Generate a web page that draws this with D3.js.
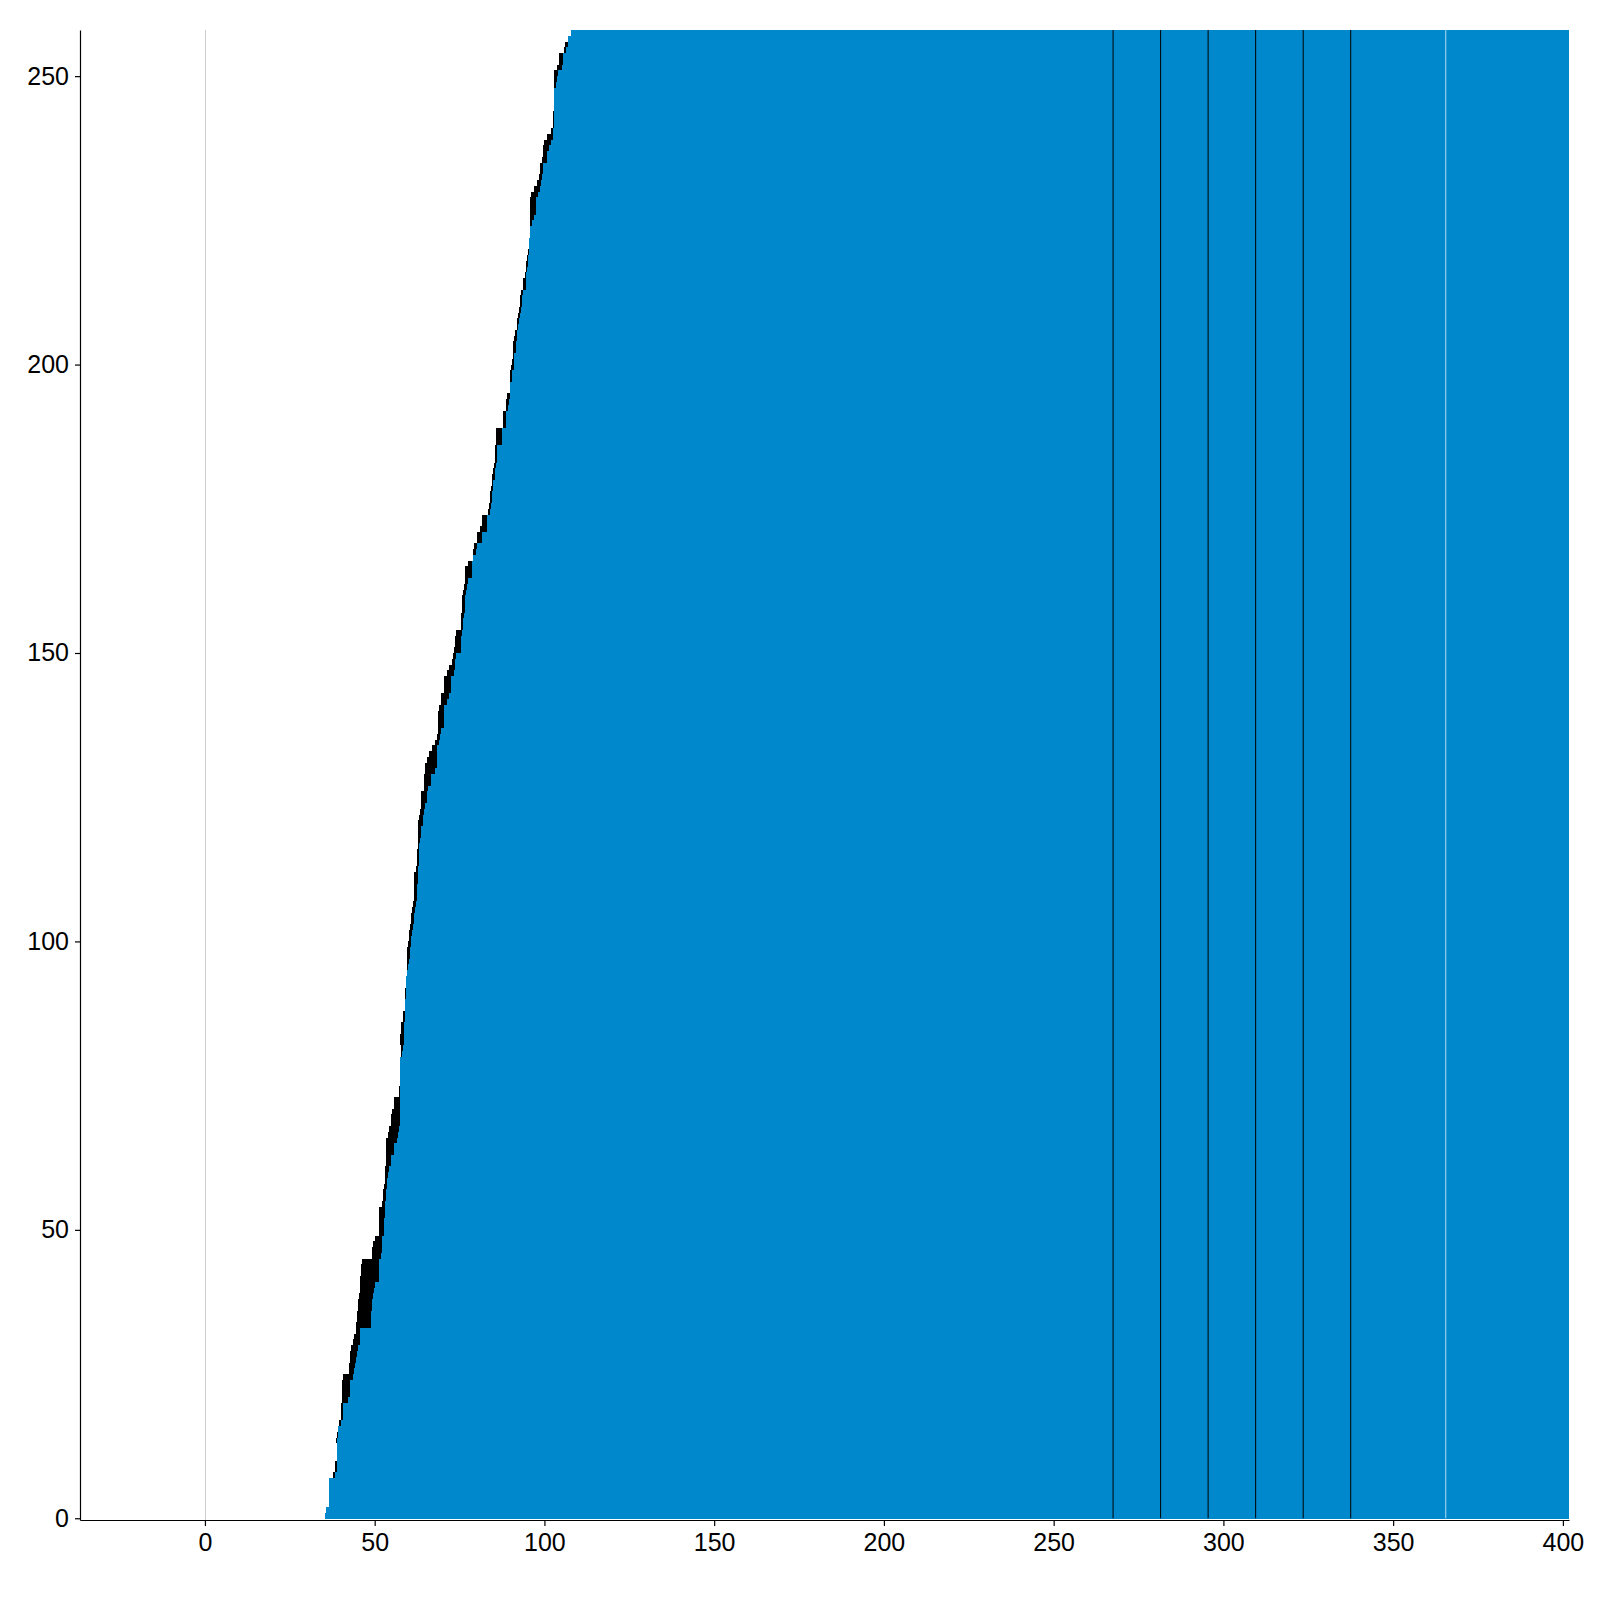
<!DOCTYPE html>
<html>
<head>
<meta charset="utf-8">
<script src="https://cdn.jsdelivr.net/npm/d3@7"></script>
<style>
  body { margin: 0; background: #fff; }
  svg { display: block; }
  .axis text { font-family: "Liberation Sans", Arial, sans-serif; font-size: 25px; fill: #000; }
</style>
</head>
<body>
<div id="chart"></div>
<script>
// one entry per row (row i spans y = i .. i+1)
const blackStart = [
  35.5, 35.8, 36.4, 36.4, 36.4, 36.4, 36.4, 37.7, 38.2, 38.3,
  38.8, 38.8, 38.8, 38.7, 39.0, 39.1, 39.4, 40.0, 40.1, 40.2,
  40.3, 40.4, 40.5, 40.5, 40.6, 42.4, 42.5, 42.7, 42.7, 42.9,
  43.7, 43.9, 44.4, 44.5, 44.7, 44.9, 45.0, 45.2, 45.4, 45.6,
  45.7, 45.8, 45.9, 46.1, 46.4, 49.3, 49.3, 49.6, 50.0, 51.2,
  51.2, 51.2, 51.2, 51.4, 52.3, 52.4, 52.5, 52.8, 52.9, 52.9,
  53.0, 53.3, 53.3, 53.3, 53.3, 53.4, 53.9, 54.2, 54.7, 54.7,
  55.0, 55.6, 55.6, 57.1, 57.2, 57.4, 57.4, 57.4, 57.5, 57.6,
  57.7, 57.8, 57.6, 57.6, 57.7, 57.8, 58.2, 58.4, 58.8, 58.8,
  58.8, 58.9, 59.2, 59.3, 59.4, 59.4, 59.5, 59.5, 59.5, 59.9,
  60.0, 60.1, 60.3, 60.6, 60.7, 60.9, 61.3, 61.5, 61.5, 61.6,
  61.7, 61.7, 62.1, 62.4, 62.4, 62.5, 62.7, 62.9, 62.9, 62.9,
  62.9, 63.2, 63.4, 63.6, 63.5, 63.6, 64.4, 64.4, 64.5, 64.8,
  64.8, 65.3, 65.9, 66.8, 67.7, 68.5, 68.6, 68.6, 68.6, 68.7,
  68.9, 69.4, 69.5, 70.4, 70.4, 70.5, 71.3, 71.8, 72.7, 73.2,
  73.3, 73.7, 73.7, 73.9, 75.3, 75.3, 75.5, 75.6, 75.6, 75.6,
  76.1, 76.4, 76.5, 76.7, 76.7, 77.4, 78.9, 79.1, 79.3, 80.1,
  80.1, 80.9, 81.5, 81.6, 83.4, 83.7, 83.9, 84.0, 84.4, 84.5,
  84.7, 84.8, 85.1, 85.4, 85.4, 85.5, 85.6, 85.7, 85.7, 87.7,
  87.7, 87.9, 88.6, 88.7, 88.9, 89.8, 89.8, 89.8, 89.9, 90.3,
  90.4, 90.7, 90.7, 90.7, 91.1, 91.3, 91.8, 91.9, 92.2, 92.5,
  92.7, 92.7, 93.2, 93.6, 93.6, 94.3, 94.6, 94.7, 95.0, 95.3,
  95.4, 95.6, 95.7, 95.7, 95.8, 95.8, 95.8, 95.8, 95.8, 96.0,
  96.9, 97.7, 98.3, 98.7, 98.8, 99.4, 99.6, 99.7, 99.8, 100.7,
  101.9, 102.5, 102.5, 102.6, 102.7, 102.7, 102.7, 102.7, 102.7, 102.8,
  102.8, 103.6, 104.2, 104.2, 105.8, 106.2, 107.0, 107.8
];
const blueStart = [
  35.5, 35.8, 36.4, 36.4, 36.4, 36.4, 36.4, 38.3, 38.8, 38.8,
  38.8, 38.8, 38.8, 39.0, 39.2, 39.3, 40.2, 40.7, 40.7, 40.7,
  42.2, 42.6, 42.6, 42.6, 43.7, 43.9, 44.1, 44.4, 44.9, 45.1,
  45.6, 45.6, 45.7, 49.0, 49.0, 49.0, 49.1, 49.3, 49.6, 49.9,
  50.0, 51.2, 51.2, 51.2, 51.2, 51.8, 52.2, 52.2, 52.2, 52.7,
  52.7, 52.7, 53.0, 53.0, 53.1, 53.2, 53.3, 53.6, 53.7, 53.8,
  54.1, 54.7, 54.7, 55.6, 55.6, 56.7, 56.9, 57.2, 57.4, 57.4,
  57.4, 57.4, 57.4, 57.4, 57.4, 57.4, 57.4, 57.4, 57.6, 57.6,
  58.1, 58.4, 58.6, 58.6, 58.6, 58.6, 58.8, 58.9, 58.9, 59.0,
  59.2, 59.2, 59.2, 59.3, 59.4, 59.9, 60.1, 60.4, 60.4, 60.6,
  60.8, 61.1, 61.4, 61.5, 61.6, 61.9, 62.1, 62.4, 62.4, 62.4,
  62.7, 62.7, 62.9, 63.1, 63.1, 63.1, 63.2, 63.4, 63.5, 63.6,
  64.3, 64.3, 64.4, 64.7, 65.5, 65.5, 65.8, 66.7, 66.7, 67.7,
  68.5, 68.5, 68.5, 68.5, 68.8, 69.1, 69.4, 70.3, 70.3, 70.3,
  70.4, 71.2, 71.9, 72.5, 72.5, 72.5, 73.4, 73.6, 73.7, 73.9,
  75.3, 75.5, 75.5, 75.8, 75.9, 76.0, 76.3, 76.5, 76.5, 76.6,
  76.9, 77.3, 77.6, 78.6, 78.8, 78.8, 79.1, 79.9, 80.0, 81.5,
  81.5, 83.2, 83.2, 83.2, 83.9, 84.2, 84.5, 84.7, 84.9, 85.0,
  85.3, 85.5, 85.7, 85.9, 85.9, 85.9, 87.6, 87.6, 87.6, 88.6,
  88.6, 88.6, 89.4, 89.5, 89.8, 89.8, 89.9, 90.5, 90.5, 90.9,
  90.9, 91.1, 91.6, 91.6, 91.9, 91.9, 92.3, 92.5, 92.8, 93.2,
  93.5, 93.5, 93.7, 94.5, 94.5, 94.7, 95.0, 95.2, 95.3, 95.5,
  95.6, 95.6, 95.7, 95.7, 96.3, 96.9, 97.4, 97.6, 97.6, 98.2,
  98.6, 99.0, 99.2, 99.5, 99.5, 100.7, 100.8, 101.3, 101.8, 102.4,
  102.5, 102.7, 102.7, 102.75, 102.75, 102.75, 102.75, 102.75, 103.3, 103.6,
  104.0, 105.3, 105.6, 105.6, 106.4, 106.8, 107.0, 107.8
];
const barEnd = 401.8;
const darkLines = [267.5, 281.5, 295.5, 309.5, 323.5, 337.5];
const lightLines = [365.5];
const zeroLine = [0];
const xTicks = [0, 50, 100, 150, 200, 250, 300, 350, 400];
const yTicks = [0, 50, 100, 150, 200, 250];

const fullwidth = 1600, fullheight = 1600;
const margin = { top: 30, right: 31, bottom: 80, left: 80 };
const blue = "#0088cc";

const rows = blackStart.map((b, i) => ({ row: i, black: b, blue: blueStart[i] }));

const x = d3.scaleLinear().domain([-36.8, barEnd]).range([margin.left, fullwidth - margin.right]);
const y = d3.scaleLinear().domain([-0.3, rows.length]).range([fullheight - margin.bottom, margin.top]);

const svg = d3.select("#chart").append("svg")
  .attr("width", fullwidth)
  .attr("height", fullheight);

// light line at x = 0
svg.selectAll(".zero")
  .data(zeroLine)
  .enter().append("line")
  .attr("x1", d => Math.round(x(d)) + 0.5).attr("x2", d => Math.round(x(d)) + 0.5)
  .attr("y1", y.range()[0]).attr("y2", y.range()[1])
  .attr("stroke", "#cccccc")
  .attr("stroke-width", 1);

const bars = svg.append("g").attr("shape-rendering", "crispEdges");

// black part of each row, then blue on top
bars.selectAll(".blk")
  .data(rows.filter(d => d.black < d.blue))
  .enter().append("rect")
  .attr("x", d => x(d.black))
  .attr("width", d => x(d.blue) - x(d.black))
  .attr("y", d => y(d.row + 1))
  .attr("height", d => y(d.row) - y(d.row + 1))
  .attr("fill", "#000");

bars.selectAll(".blu")
  .data(rows)
  .enter().append("rect")
  .attr("x", d => x(d.blue))
  .attr("width", d => x(barEnd) - x(d.blue))
  .attr("y", d => y(d.row + 1))
  .attr("height", d => y(d.row) - y(d.row + 1) + 0.5)
  .attr("fill", blue);

// vertical separators through the bars
svg.selectAll(".dark")
  .data(darkLines)
  .enter().append("line")
  .attr("x1", d => x(d)).attr("x2", d => x(d))
  .attr("y1", y(0)).attr("y2", y(rows.length))
  .attr("stroke", "#000")
  .attr("stroke-width", 1);

svg.selectAll(".light")
  .data(lightLines)
  .enter().append("line")
  .attr("x1", d => x(d)).attr("x2", d => x(d))
  .attr("y1", y(0)).attr("y2", y(rows.length))
  .attr("stroke", "#ffffff")
  .attr("stroke-opacity", 0.7)
  .attr("stroke-width", 1);

// axes
svg.append("g")
  .attr("class", "axis")
  .attr("transform", `translate(0,${fullheight - margin.bottom})`)
  .call(d3.axisBottom(x).tickValues(xTicks).tickSize(6).tickSizeOuter(0).tickPadding(7));

svg.append("g")
  .attr("class", "axis")
  .attr("transform", `translate(${margin.left},0)`)
  .call(d3.axisLeft(y).tickValues(yTicks).tickSize(5).tickSizeOuter(0).tickPadding(6));

svg.selectAll(".axis path, .axis line").attr("stroke", "#000").attr("stroke-width", 1.2);
</script>
</body>
</html>
